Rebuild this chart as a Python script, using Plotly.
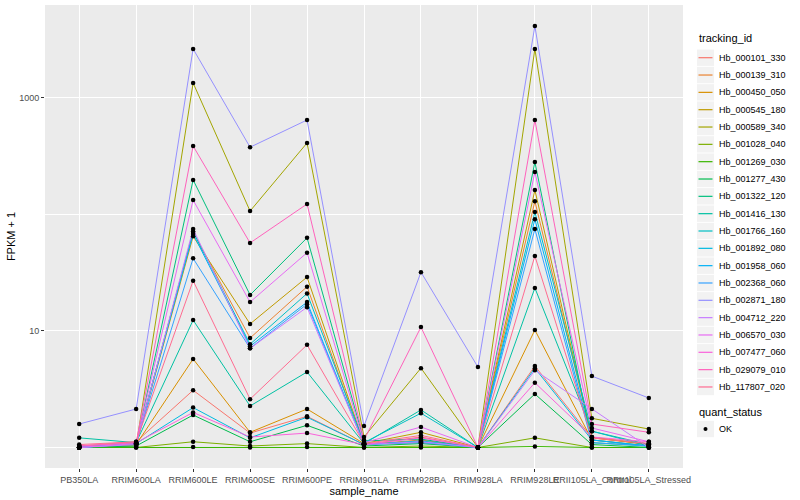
import plotly.graph_objects as go

samples = ["PB350LA", "RRIM600LA", "RRIM600LE", "RRIM600SE", "RRIM600PE", "RRIM901LA",
           "RRIM928BA", "RRIM928LA", "RRIM928LE", "RRII105LA_Control", "RRII105LA_Stressed"]

tracking_ids = ["Hb_000101_330", "Hb_000139_310", "Hb_000450_050", "Hb_000545_180", "Hb_000589_340",
                "Hb_001028_040", "Hb_001269_030", "Hb_001277_430", "Hb_001322_120", "Hb_001416_130",
                "Hb_001766_160", "Hb_001892_080", "Hb_001958_060", "Hb_002368_060", "Hb_002871_180",
                "Hb_004712_220", "Hb_006570_030", "Hb_007477_060", "Hb_029079_010", "Hb_117807_020"]

colors = ["#F8766D", "#EA8331", "#D89000", "#C09B00", "#A3A500", "#7CAE00", "#39B600", "#00BB4E",
          "#00BF7D", "#00C1A3", "#00BFC4", "#00BAE0", "#00B0F6", "#35A2FF", "#9590FF", "#C77CFF",
          "#E76BF3", "#FA62DB", "#FF62BC", "#FF6C91"]

quant_status = ["OK"]

# FPKM + 1 per tracking_id, in sample order
Hb_000101_330 = [1.03, 1.12, 3.1, 1.33, 1.85, 1.06, 1.23, 1.0, 5.0, 1.21, 1.08]
Hb_000139_310 = [1.0, 1.08, 71, 8.7, 24, 1.06, 1.16, 1.0, 130, 1.21, 1.06]
Hb_000450_050 = [1.0, 1.06, 5.75, 1.35, 2.14, 1.08, 1.1, 1.0, 10.2, 1.16, 1.03]
Hb_000545_180 = [1.0, 1.06, 65, 11.5, 29, 1.08, 1.35, 1.0, 162, 1.23, 1.06]
Hb_000589_340 = [1.0, 1.03, 1346, 107, 411, 1.23, 4.8, 1.0, 2637, 1.78, 1.44]
Hb_001028_040 = [1.0, 1.0, 1.12, 1.03, 1.08, 1.0, 1.03, 1.0, 1.21, 1.0, 1.0]
Hb_001269_030 = [1.0, 1.0, 1.01, 1.0, 1.01, 1.0, 1.0, 1.0, 1.02, 1.0, 1.0]
Hb_001277_430 = [1.0, 1.03, 1.9, 1.12, 1.55, 1.03, 1.08, 1.0, 2.88, 1.06, 1.0]
Hb_001322_120 = [1.03, 1.06, 198, 20.4, 63, 1.14, 1.18, 1.0, 282, 1.1, 1.03]
Hb_001416_130 = [1.21, 1.1, 12.4, 2.27, 4.45, 1.08, 2.1, 1.0, 23.4, 1.38, 1.06]
Hb_001766_160 = [1.0, 1.08, 71, 7.7, 21, 1.1, 1.97, 1.0, 105, 1.38, 1.03]
Hb_001892_080 = [1.0, 1.08, 2.2, 1.21, 1.82, 1.06, 1.14, 1.0, 4.8, 1.16, 1.03]
Hb_001958_060 = [1.0, 1.08, 68, 7.4, 17.7, 1.06, 1.12, 1.0, 91, 1.16, 1.03]
Hb_002368_060 = [1.0, 1.08, 42, 7.1, 17, 1.06, 1.1, 1.0, 75, 1.1, 1.03]
Hb_002871_180 = [1.59, 2.14, 2637, 378, 647, 1.53, 32, 4.9, 4150, 4.1, 2.66]
Hb_004712_220 = [1.0, 1.06, 75, 7.1, 16, 1.06, 1.12, 1.0, 4.6, 2.14, 1.0]
Hb_006570_030 = [1.0, 1.08, 133, 17.7, 47, 1.1, 1.5, 1.0, 232, 1.47, 1.12]
Hb_007477_060 = [1.03, 1.1, 2.0, 1.23, 1.33, 1.06, 1.21, 1.0, 3.6, 1.23, 1.12]
Hb_029079_010 = [1.03, 1.1, 387, 57, 123, 1.16, 10.8, 1.0, 647, 1.59, 1.35]
Hb_117807_020 = [1.06, 1.12, 27, 2.6, 7.6, 1.08, 1.27, 1.0, 44, 1.21, 1.08]

series_values = [Hb_000101_330, Hb_000139_310, Hb_000450_050, Hb_000545_180, Hb_000589_340,
                 Hb_001028_040, Hb_001269_030, Hb_001277_430, Hb_001322_120, Hb_001416_130,
                 Hb_001766_160, Hb_001892_080, Hb_001958_060, Hb_002368_060, Hb_002871_180,
                 Hb_004712_220, Hb_006570_030, Hb_007477_060, Hb_029079_010, Hb_117807_020]

y_tick_vals = [10, 1000]
y_tick_text = ["10", "1000"]
y_minor_vals = [1, 100]

W, H = 800, 500
ML, MR, MT, MB = 45, 117, 5, 32
PW, PH = W - ML - MR, H - MT - MB


def px_x(p):
    return (p - ML) / PW


def px_y(p):
    return (H - MB - p) / PH


fig = go.Figure()
for name, vals, col in zip(tracking_ids, series_values, colors):
    fig.add_trace(go.Scatter(
        x=samples, y=vals, mode="lines", name=name,
        line=dict(color=col, width=1), hoverinfo="skip",
    ))

px, py = [], []
for vals in series_values:
    px.extend(samples)
    py.extend(vals)
fig.add_trace(go.Scatter(
    x=px, y=py, mode="markers", name=quant_status[0],
    marker=dict(color="black", size=4.5, symbol="circle"),
))

# ggplot-style legend (keys with grey boxes)
shapes, annotations = [], []
key_x0, key_x1, text_x = 697, 714, 717
row0, row_h = 57.7, 17.33
annotations.append(dict(text="tracking_id", x=px_x(697), y=px_y(38), xref="paper", yref="paper",
                        xanchor="left", yanchor="middle", showarrow=False,
                        font=dict(size=11, color="black")))
for i, (name, col) in enumerate(zip(tracking_ids, colors)):
    cy = row0 + i * row_h
    shapes.append(dict(type="rect", xref="paper", yref="paper",
                       x0=px_x(key_x0), x1=px_x(key_x1), y0=px_y(cy - 8.2), y1=px_y(cy + 8.2),
                       fillcolor="#F2F2F2", line=dict(width=0), layer="below"))
    shapes.append(dict(type="line", xref="paper", yref="paper",
                       x0=px_x(key_x0 + 1.5), x1=px_x(key_x1 - 1.5), y0=px_y(cy), y1=px_y(cy),
                       line=dict(color=col, width=1.2)))
    annotations.append(dict(text=name, x=px_x(text_x), y=px_y(cy), xref="paper", yref="paper",
                            xanchor="left", yanchor="middle", showarrow=False,
                            font=dict(size=9, color="black")))

annotations.append(dict(text="quant_status", x=px_x(697), y=px_y(412), xref="paper", yref="paper",
                        xanchor="left", yanchor="middle", showarrow=False,
                        font=dict(size=11, color="black")))
cy = 429
shapes.append(dict(type="rect", xref="paper", yref="paper",
                   x0=px_x(key_x0), x1=px_x(key_x1), y0=px_y(cy - 8.2), y1=px_y(cy + 8.2),
                   fillcolor="#F2F2F2", line=dict(width=0), layer="below"))
shapes.append(dict(type="circle", xref="paper", yref="paper",
                   x0=px_x(703.5), x1=px_x(707.5), y0=px_y(cy - 2), y1=px_y(cy + 2),
                   fillcolor="black", line=dict(width=0)))
annotations.append(dict(text=quant_status[0], x=px_x(text_x), y=px_y(cy), xref="paper", yref="paper",
                        xanchor="left", yanchor="middle", showarrow=False,
                        font=dict(size=9, color="black")))

fig.update_layout(
    width=W, height=H,
    margin=dict(l=ML, r=MR, t=MT, b=MB, autoexpand=False),
    paper_bgcolor="white",
    plot_bgcolor="#EBEBEB",
    font=dict(family="Liberation Sans, Arial, sans-serif", size=9, color="#4D4D4D"),
    showlegend=False,
    shapes=shapes,
    annotations=annotations,
    xaxis=dict(
        type="category", categoryorder="array", categoryarray=samples,
        range=[-0.6, 10.6], tickangle=0, automargin=False,
        showgrid=True, gridcolor="white", gridwidth=1.2,
        ticks="outside", ticklen=3, tickcolor="#333333", tickwidth=1,
        tickfont=dict(size=9, color="#4D4D4D"),
        title=dict(text="sample_name", font=dict(size=11, color="black"), standoff=2),
        zeroline=False, showline=False,
    ),
    yaxis=dict(
        type="log", range=[-0.176, 3.798], automargin=False,
        tickmode="array", tickvals=y_tick_vals, ticktext=y_tick_text,
        showgrid=True, gridcolor="white", gridwidth=1.2,
        minor=dict(tickmode="array", tickvals=y_minor_vals, showgrid=True,
                   gridcolor="white", gridwidth=0.6, ticks=""),
        ticks="outside", ticklen=3, tickcolor="#333333", tickwidth=1,
        tickfont=dict(size=9, color="#4D4D4D"),
        title=dict(text="FPKM + 1", font=dict(size=11, color="black"), standoff=1),
        zeroline=False, showline=False,
    ),
)

fig.write_html("out.html", config={"displayModeBar": False},
               post_script="document.body.style.margin='0px';")
